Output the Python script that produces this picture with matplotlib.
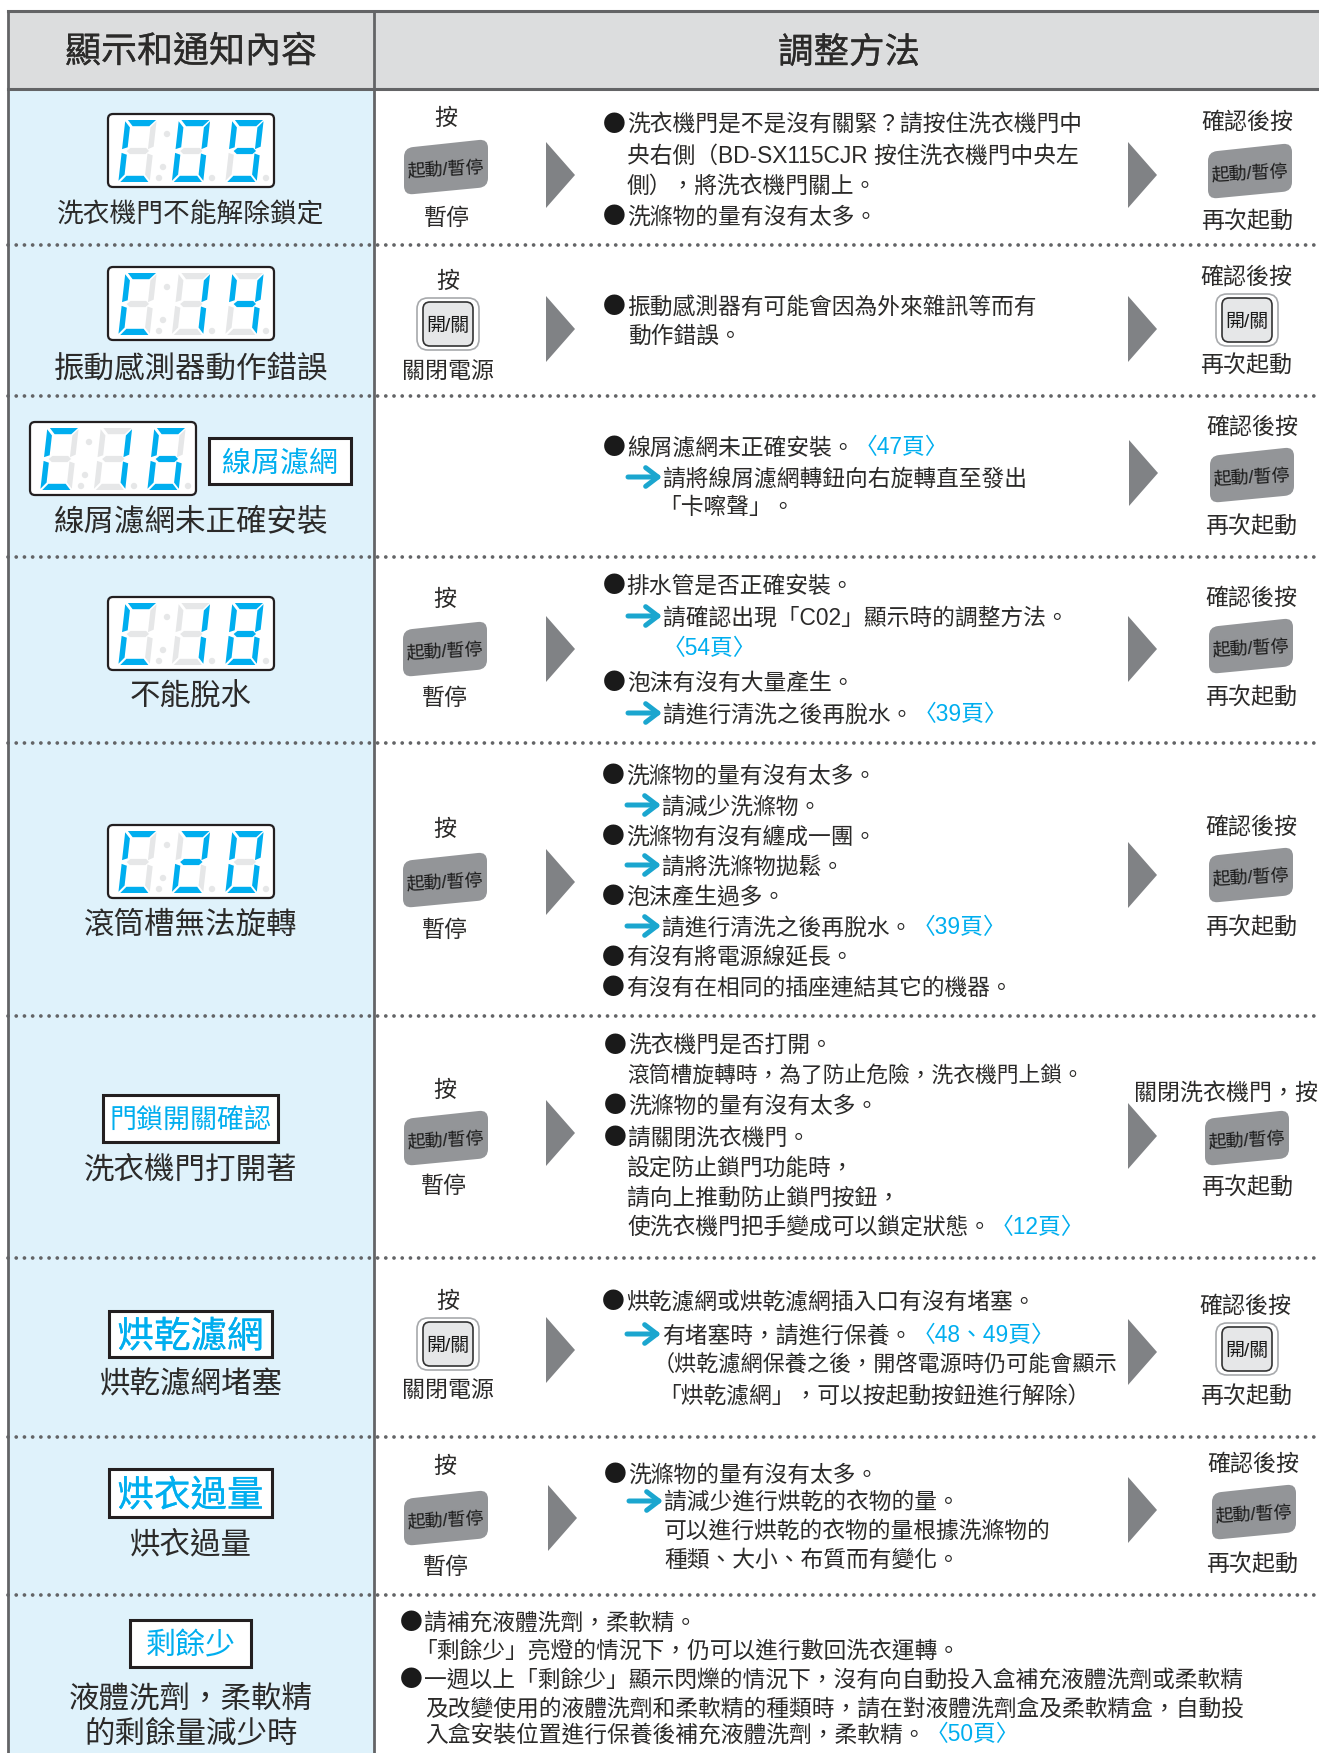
import matplotlib
matplotlib.use('Agg')
from matplotlib import pyplot as plt
from matplotlib import patheffects
from matplotlib.patches import FancyBboxPatch, PathPatch, Polygon, Circle, Rectangle
from matplotlib.path import Path

# 拉丁字母用 Liberation Sans, 其餘落到 Noto
plt.rcParams['font.family'] = ['Liberation Sans', 'Noto Sans CJK TC', 'DejaVu Sans']

# 表頭
header_left = '顯示和通知內容'
header_right = '調整方法'

# 左欄
display_codes = ['C09', 'C14', 'C16', 'C18', 'C20']
display_tags = ['線屑濾網', '門鎖開關確認', '烘乾濾網', '烘衣過量', '剩餘少']
row_titles = ['洗衣機門不能解除鎖定', '振動感測器動作錯誤', '線屑濾網未正確安裝', '不能脫水',
              '滾筒槽無法旋轉', '洗衣機門打開著', '烘乾濾網堵塞', '烘衣過量',
              '液體洗劑，柔軟精', '的剩餘量減少時']

# 按鈕旁的文字
press = '按'
pause = '暫停'
power_off = '關閉電源'
confirm = '確認後按'
close_door = '關閉洗衣機門，按'
restart = '再次起動'
btn_start = '起動/暫停'
btn_power = '開/關'

# 右欄內容, ● 開頭為項目, → 開頭畫藍色箭頭, 〈 之後為藍字
body_lines = [
    '●洗衣機門是不是沒有關緊？請按住洗衣機門中',
    '央右側（BD-SX115CJR 按住洗衣機門中央左',
    '側），將洗衣機門關上。',
    '●洗滌物的量有沒有太多。',
    '●振動感測器有可能會因為外來雜訊等而有',
    '動作錯誤。',
    '●線屑濾網未正確安裝。〈47頁〉',
    '→請將線屑濾網轉鈕向右旋轉直至發出',
    '「卡嚓聲」。',
    '●排水管是否正確安裝。',
    '→請確認出現「C02」顯示時的調整方法。',
    '〈54頁〉',
    '●泡沫有沒有大量產生。',
    '→請進行清洗之後再脫水。〈39頁〉',
    '●洗滌物的量有沒有太多。',
    '→請減少洗滌物。',
    '●洗滌物有沒有纏成一團。',
    '→請將洗滌物拋鬆。',
    '●泡沫產生過多。',
    '→請進行清洗之後再脫水。〈39頁〉',
    '●有沒有將電源線延長。',
    '●有沒有在相同的插座連結其它的機器。',
    '●洗衣機門是否打開。',
    '滾筒槽旋轉時，為了防止危險，洗衣機門上鎖。',
    '●洗滌物的量有沒有太多。',
    '●請關閉洗衣機門。',
    '設定防止鎖門功能時，',
    '請向上推動防止鎖門按鈕，',
    '使洗衣機門把手變成可以鎖定狀態。〈12頁〉',
    '●烘乾濾網或烘乾濾網插入口有沒有堵塞。',
    '→有堵塞時，請進行保養。〈48、49頁〉',
    '（烘乾濾網保養之後，開啓電源時仍可能會顯示',
    '「烘乾濾網」，可以按起動按鈕進行解除）',
    '●洗滌物的量有沒有太多。',
    '→請減少進行烘乾的衣物的量。',
    '可以進行烘乾的衣物的量根據洗滌物的',
    '種類、大小、布質而有變化。',
    '●請補充液體洗劑，柔軟精。',
    '「剩餘少」亮燈的情況下，仍可以進行數回洗衣運轉。',
    '●一週以上「剩餘少」顯示閃爍的情況下，沒有向自動投入盒補充液體洗劑或柔軟精',
    '及改變使用的液體洗劑和柔軟精的種類時，請在對液體洗劑盒及柔軟精盒，自動投',
    '入盒安裝位置進行保養後補充液體洗劑，柔軟精。〈50頁〉',
]

# ---------- 版面 (像素) ----------
W, H = 1319, 1753
COL_L, COL_M = 8, 374
HEAD_T, HEAD_B = 11, 89
row_lines = [245, 396, 557, 743, 1016, 1258, 1437, 1595]

display_xy = [(108, 114), (108, 267), (30, 422), (108, 597), (108, 825)]
tag_boxes = [(209, 438, 351, 484), (103, 1095, 278, 1142), (109, 1311, 272, 1357),
             (109, 1469, 272, 1517), (130, 1620, 251, 1667)]
tag_sizes = [29, 27, 36.5, 36.5, 30]
tag_strokes = [0, 0, 0.15, 0.15, 0]
title_y = [213, 366, 520, 694, 922, 1167, 1382, 1542, 1696, 1732]
title_em = [26.7, 30.5, 30.5, 30.5, 30.5, 30.5, 30.5, 30.5, 30.5, 30.5]
title_x = 191

body_x = [603, 627, 627, 603, 603, 628, 603, 663, 658, 603, 663, 663, 603, 663,
          602, 662, 602, 662, 602, 662, 602, 602,
          604, 627, 604, 604, 627, 627, 627,
          602, 662, 653, 658, 604, 664, 664, 664,
          400, 414, 400, 425, 425]
body_y = [123, 154, 184, 215, 305, 334, 446, 477, 506, 584, 616, 647, 681, 713,
          774, 805, 835, 865, 895, 926, 956, 986,
          1044, 1074, 1104, 1136, 1166, 1196, 1226,
          1300, 1334, 1364, 1394, 1473, 1501, 1530, 1558,
          1621, 1650, 1678, 1707, 1733]
body_em = [22.8] * len(body_lines)
body_em[23] = 21.8
body_em[31] = 22.1

# 灰色三角形 (左x, 中心y)
triangles = [(546, 175), (1128, 175), (546, 329), (1128, 329), (1129, 473), (546, 649),
             (1128, 649), (546, 882), (1128, 875), (546, 1133), (1128, 1136), (546, 1350),
             (1128, 1352), (548, 1518), (1128, 1510)]

start_buttons = [(446, 167), (1250, 171), (1252, 475), (445, 649), (1251, 646), (445, 880),
                 (1251, 875), (446, 1138), (1247, 1138), (446, 1518), (1254, 1512)]
power_buttons = [(448, 324), (1247, 320), (448, 1344), (1247, 1349)]

side_labels = [
    (press, 446, 116), (pause, 447, 216), (confirm, 1247, 120), (restart, 1247, 220),
    (press, 448, 279), (power_off, 448, 369), (confirm, 1246, 275), (restart, 1246, 364),
    (confirm, 1252, 425), (restart, 1251, 525),
    (press, 445, 597), (pause, 445, 696), (confirm, 1251, 596), (restart, 1251, 696),
    (press, 445, 827), (pause, 445, 928), (confirm, 1251, 825), (restart, 1251, 926),
    (press, 445, 1088), (pause, 444, 1184), (close_door, 1226, 1091), (restart, 1247, 1186),
    (press, 448, 1299), (power_off, 448, 1388), (confirm, 1245, 1304), (restart, 1246, 1395),
    (press, 445, 1464), (pause, 446, 1565), (confirm, 1253, 1462), (restart, 1252, 1563),
]

INK = '#2b2a29'
BLUE = '#00aeef'
OFF = '#e6e7e8'
GREY_LINE = '#636466'
ARROW = '#1ba6cf'

# 七段顯示器各段 (u, v), v 向上
SEGMENTS = {
    'a': [(0.09, 1.0), (0.97, 1.0), (0.78, 0.90), (0.26, 0.90)],
    'b': [(0.82, 0.88), (0.99, 0.98), (0.99, 0.57), (0.82, 0.53)],
    'c': [(0.82, 0.46), (0.99, 0.43), (0.99, 0.02), (0.82, 0.12)],
    'd': [(0.07, 0.0), (0.95, 0.0), (0.78, 0.10), (0.24, 0.10)],
    'e': [(0.01, 0.47), (0.18, 0.44), (0.18, 0.12), (0.01, 0.02)],
    'f': [(0.01, 0.98), (0.18, 0.88), (0.18, 0.56), (0.01, 0.53)],
    'g': [(0.16, 0.50), (0.27, 0.55), (0.76, 0.55), (0.86, 0.50), (0.76, 0.45), (0.27, 0.45)],
}
DIGITS = {'C': 'adef', '0': 'abcdef', '1': 'bc', '2': 'abdeg', '4': 'bcfg',
          '6': 'acdefg', '8': 'abcdefg', '9': 'abcdfg'}


def px_text(ax, x, y, s, em, color=INK, ha='left', rotation=0, zorder=5, stroke=0):
    # y 是字的中心, 換算到基線
    t = ax.text(x, y + 0.37 * em, s, fontsize=em * 0.72, color=color, ha=ha, va='baseline',
                rotation=rotation, rotation_mode='anchor', zorder=zorder)
    if stroke:
        t.set_path_effects([patheffects.withStroke(linewidth=stroke, foreground=color)])
    return t


def rounded_poly(points, r):
    verts, codes = [], []
    n = len(points)
    for i in range(n):
        p = points[i]
        a = points[i - 1]
        b = points[(i + 1) % n]
        la = ((a[0] - p[0]) ** 2 + (a[1] - p[1]) ** 2) ** 0.5
        lb = ((b[0] - p[0]) ** 2 + (b[1] - p[1]) ** 2) ** 0.5
        s = (p[0] + (a[0] - p[0]) * r / la, p[1] + (a[1] - p[1]) * r / la)
        e = (p[0] + (b[0] - p[0]) * r / lb, p[1] + (b[1] - p[1]) * r / lb)
        verts += [s, p, e]
        codes += [Path.MOVETO if i == 0 else Path.LINETO, Path.CURVE3, Path.CURVE3]
    verts.append(verts[0])
    codes.append(Path.CLOSEPOLY)
    return Path(verts, codes)


def draw_display(ax, x0, y0, code):
    ax.add_patch(FancyBboxPatch((x0 + 5, y0 + 5), 156, 63, boxstyle='round,pad=5,rounding_size=5',
                                fc='white', ec='#231f20', lw=1.6, zorder=3))
    for k, ch in enumerate(code):
        ox = x0 + 10 + 53.5 * k
        for name, pts in SEGMENTS.items():
            xy = [(ox + u * 32 + v * 7, y0 + 6 + (1 - v) * 62) for u, v in pts]
            lit = name in DIGITS[ch]
            ax.add_patch(Polygon(xy, closed=True, fc=BLUE if lit else OFF, ec='none', zorder=4))
    for dx, dy in [(59, 20), (55, 53), (51, 64), (104, 64), (158, 64)]:
        ax.add_patch(Circle((x0 + dx, y0 + dy), 3.2, fc=OFF, ec='none', zorder=4))


def draw_start_button(ax, cx, cy):
    pts = [(cx - 42, cy - 19), (cx + 42, cy - 28), (cx + 42, cy + 20), (cx - 42, cy + 28)]
    ax.add_patch(PathPatch(rounded_poly(pts, 9), fc='#939598', ec='none', zorder=3))
    px_text(ax, cx, cy + 1, btn_start, 18, color='#1a1a1a', ha='center', rotation=3)


def draw_power_button(ax, cx, cy):
    ax.add_patch(FancyBboxPatch((cx - 22, cy - 17), 44, 34, boxstyle='round,pad=9,rounding_size=11',
                                fc='white', ec='#a7a9ac', lw=1.2, zorder=3))
    ax.add_patch(FancyBboxPatch((cx - 20, cy - 17), 40, 34, boxstyle='round,pad=5,rounding_size=7',
                                fc=OFF, ec='#333333', lw=1.2, zorder=4))
    px_text(ax, cx, cy, btn_power, 19, color='#1a1a1a', ha='center')


def draw_body_line(ax, renderer, x, y, line, em):
    if line.startswith('●'):
        ax.text(x, y + 0.37 * em, '●', fontsize=em * 0.72, color='#1a1a1a', family='Noto Sans CJK TC',
                va='baseline', zorder=5)
        x = x + em + 1
        line = line[1:]
    if line.startswith('→'):
        ax.annotate('', xy=(x - 1, y), xytext=(x - 35, y), zorder=5,
                    arrowprops=dict(arrowstyle='->,head_width=0.42,head_length=0.55', color=ARROW, lw=3.6,
                                    shrinkA=0, shrinkB=0, mutation_scale=16))
        line = line[1:]
    if '〈' in line:
        head, tail = line.split('〈')
        if head:
            t = px_text(ax, x, y, head, em)
            x = t.get_window_extent(renderer).x1
        px_text(ax, x, y, '〈' + tail, em, color=BLUE)
    else:
        px_text(ax, x, y, line, em)


fig = plt.figure(figsize=(W / 100, H / 100), dpi=100, facecolor='white')
ax = fig.add_axes([0, 0, 1, 1])
ax.set_xlim(0, W)
ax.set_ylim(H, 0)
ax.axis('off')
renderer = fig.canvas.get_renderer()

# 底色
ax.add_patch(Rectangle((COL_L, HEAD_T), W - COL_L, HEAD_B - HEAD_T, fc='#dcddde', ec='none', zorder=0))
ax.add_patch(Rectangle((COL_L, HEAD_B), COL_M - COL_L, H - HEAD_B, fc='#dff2fb', ec='none', zorder=0))

# 虛線
for y in row_lines:
    ax.plot([COL_L, W + 10], [y, y], color=GREY_LINE, lw=2.7, linestyle=(0, (0.01, 2.18)),
            dash_capstyle='round', zorder=1)

# 框線
ax.plot([COL_L, W], [HEAD_T, HEAD_T], color=GREY_LINE, lw=2.2, zorder=2)
ax.plot([COL_L, W], [HEAD_B, HEAD_B], color=GREY_LINE, lw=2.2, zorder=2)
ax.plot([COL_L, COL_L], [HEAD_T, H], color=GREY_LINE, lw=2.0, zorder=2)
ax.plot([COL_M, COL_M], [HEAD_T, H], color=GREY_LINE, lw=2.0, zorder=2)

px_text(ax, 191, 49, header_left, 36, ha='center', stroke=0.2)
px_text(ax, 849, 50, header_right, 35.5, ha='center', stroke=0.2)

for code, (x0, y0) in zip(display_codes, display_xy):
    draw_display(ax, x0, y0, code)

for tag, (x0, y0, x1, y1), size, st in zip(display_tags, tag_boxes, tag_sizes, tag_strokes):
    ax.add_patch(Rectangle((x0, y0), x1 - x0, y1 - y0, fc='white', ec='#231f20', lw=2.2, zorder=3))
    px_text(ax, (x0 + x1) / 2, (y0 + y1) / 2, tag, size, color=BLUE, ha='center', stroke=st)

for title, y, em in zip(row_titles, title_y, title_em):
    px_text(ax, title_x, y, title, em, ha='center')

for x, y in triangles:
    ax.add_patch(Polygon([(x, y - 33), (x + 29, y), (x, y + 33)], closed=True, fc='#808285', ec='none', zorder=3))

for cx, cy in start_buttons:
    draw_start_button(ax, cx, cy)
for cx, cy in power_buttons:
    draw_power_button(ax, cx, cy)

for label, x, y in side_labels:
    px_text(ax, x, y, label, 23, ha='center')

for x, y, line, em in zip(body_x, body_y, body_lines, body_em):
    draw_body_line(ax, renderer, x, y, line, em)

fig.savefig('out.png', dpi=100)
